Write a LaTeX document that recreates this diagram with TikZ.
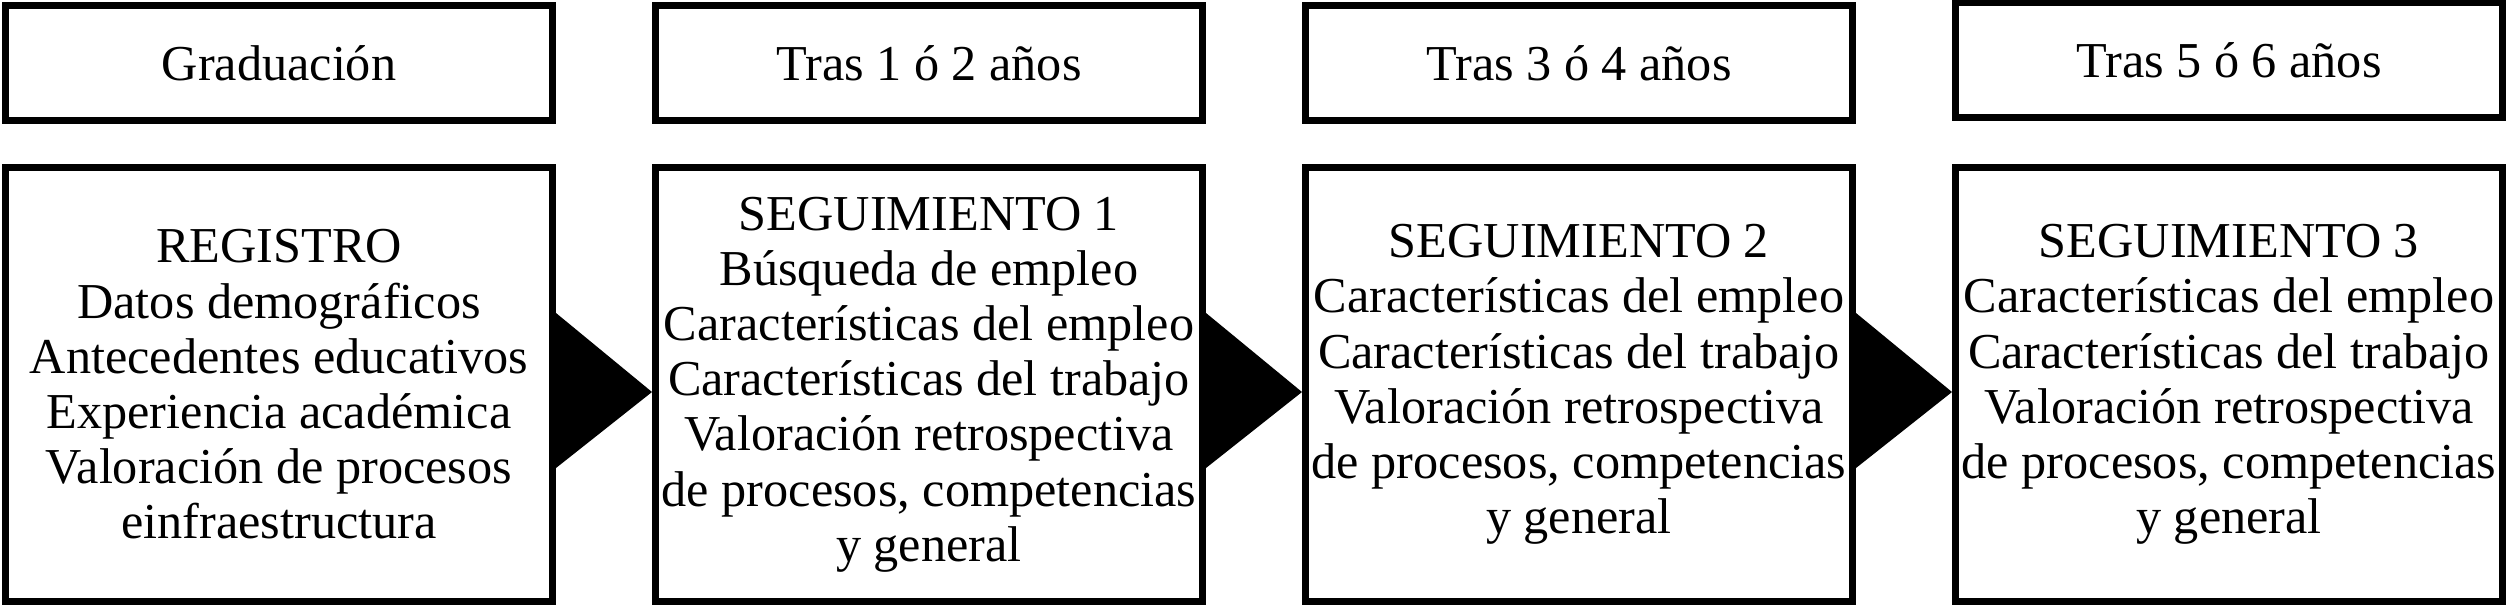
\documentclass[tikz,border=0pt]{standalone}
\usepackage{fontspec}
\setmainfont{Liberation Serif}
\usetikzlibrary{positioning}
\tikzset{
  stage/.style = {rectangle, draw=black, line width=0.07cm, align=center, minimum width=5.47cm, minimum height=1.15cm, inner sep=0pt, font=\fontsize{14.3}{15.7}\selectfont},
  content/.style = {rectangle, draw=black, line width=0.07cm, align=center, minimum width=5.47cm, minimum height=4.34cm, inner sep=0pt, font=\fontsize{14.3}{15.7}\selectfont},
  flow/.style = {fill=black}
}
\begin{document}
\begin{tikzpicture}[node distance=0.40cm and 0.96cm]
\useasboundingbox (0,0) rectangle (25.07,6.05);

% Top row: moments
\node[stage, anchor=north west] (grad) at (0.02,6.03) {Graduación};
\node[stage, right=of grad] (t1) {Tras 1 ó 2 años};
\node[stage, right=of t1] (t2) {Tras 3 ó 4 años};
\node[stage, right=of t2, yshift=0.03cm] (t3) {Tras 5 ó 6 años};

% Bottom row: surveys
\node[content, below=of grad] (reg) {REGISTRO\\ Datos demográficos\\ Antecedentes educativos\\ Experiencia académica\\ Valoración de procesos\\ einfraestructura};
\node[content, right=of reg] (seg1) {SEGUIMIENTO 1\\ Búsqueda de empleo\\ Características del empleo\\ Características del trabajo\\ Valoración retrospectiva\\ de procesos, competencias\\ y general};
\node[content, right=of seg1] (seg2) {SEGUIMIENTO 2\\ Características del empleo\\ Características del trabajo\\ Valoración retrospectiva\\ de procesos, competencias\\ y general};
\node[content, right=of seg2] (seg3) {SEGUIMIENTO 3\\ Características del empleo\\ Características del trabajo\\ Valoración retrospectiva\\ de procesos, competencias\\ y general};

% Arrows
\fill[flow] ([yshift=0.715cm]reg.east) -- ([yshift=-0.075cm]seg1.west) -- ([yshift=-0.835cm]reg.east) -- cycle;
\fill[flow] ([yshift=0.715cm]seg1.east) -- ([yshift=-0.075cm]seg2.west) -- ([yshift=-0.835cm]seg1.east) -- cycle;
\fill[flow] ([yshift=0.715cm]seg2.east) -- ([yshift=-0.075cm]seg3.west) -- ([yshift=-0.835cm]seg2.east) -- cycle;

\end{tikzpicture}
\end{document}
